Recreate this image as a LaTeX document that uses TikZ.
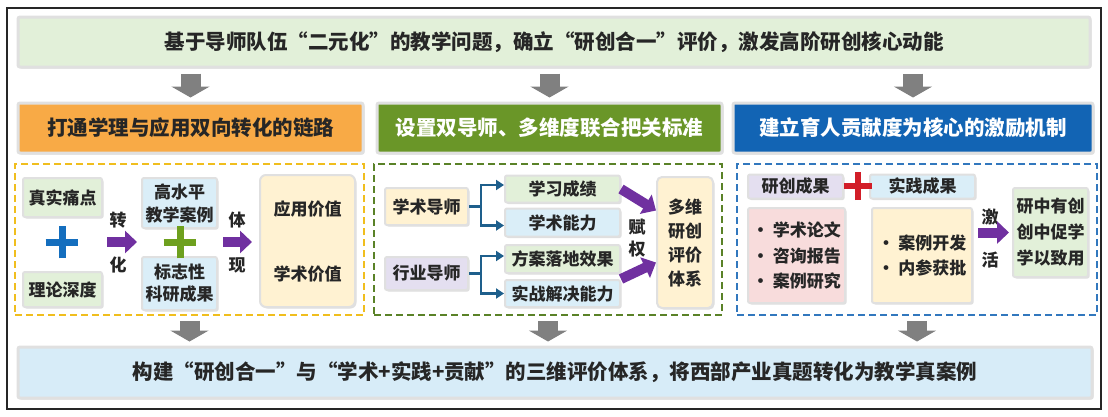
\documentclass[tikz,border=0pt]{standalone}
\usepackage{fontspec}
\setmainfont{Noto Sans CJK SC}
\usetikzlibrary{arrows.meta,shadows,shapes.misc,positioning}
\definecolor{topgreen}{RGB}{226,240,217}
\definecolor{botblue}{RGB}{215,236,248}
\definecolor{hdorange}{RGB}{248,170,70}
\definecolor{hdgreen}{RGB}{106,150,40}
\definecolor{hdblue}{RGB}{18,100,180}
\definecolor{dashorange}{RGB}{240,190,30}
\definecolor{dashgreen}{RGB}{90,130,40}
\definecolor{dashblue}{RGB}{50,120,190}
\definecolor{lgreen}{RGB}{226,240,217}
\definecolor{lblue}{RGB}{218,238,248}
\definecolor{lyellow}{RGB}{255,242,210}
\definecolor{lpurple}{RGB}{228,223,240}
\definecolor{lpink}{RGB}{248,220,220}
\definecolor{plusblue}{RGB}{20,110,190}
\definecolor{plusgreen}{RGB}{110,160,30}
\definecolor{plusred}{RGB}{210,30,40}
\definecolor{arrowgray}{RGB}{128,128,128}
\definecolor{arrowpurple}{RGB}{112,48,160}
\definecolor{forkblue}{RGB}{30,95,140}

\begin{document}
\begin{tikzpicture}[x=1pt, y=-1pt,
  box/.style={draw=black!12, line width=2pt, rounded corners=2pt, text=black!85, align=center, inner sep=0pt,
    font=\fontsize{17}{20}\selectfont\bfseries, drop shadow={opacity=.25, shadow xshift=1.5pt, shadow yshift=-1.5pt}},
  head/.style={box, line width=3pt, font=\fontsize{20.5}{22}\selectfont\bfseries},
  dashbox/.style={draw, dash pattern=on 7pt off 4pt, line width=1.5pt},
  label/.style={text=black!85, font=\fontsize{17}{20}\selectfont\bfseries, inner sep=0pt},
  down/.style={line width=20pt, draw=arrowgray, -{Triangle[width=38pt,length=11pt]}, shorten <=5pt, shorten >=4pt},
  push/.style={line width=10pt, draw=arrowpurple, -{Triangle[width=22pt,length=12pt]}},
  fork/.style={line width=2.5pt, draw=forkblue, -{Triangle[width=10pt,length=8pt]}},
  plus/.style={cross out, draw=#1, line width=7pt, minimum size=16pt, inner sep=0pt, rotate=45}]
\useasboundingbox (0,0) rectangle (1108,416);
\fill[white] (0,0) rectangle (1108,416);
\draw[line width=1.2pt, black!85] (7,8) rectangle (1101,409);

\node[head, fill=topgreen, minimum width=1072pt, minimum height=50pt] (top) at (554,42)
  {基于导师队伍“二元化”的教学问题，确立“研创合一”评价，激发高阶研创核心动能};
\node[head, fill=hdorange, minimum width=345pt, minimum height=50pt] (hdA) at (190.5,128) {打通学理与应用双向转化的链路};
\node[head, fill=hdgreen, text=white, minimum width=345pt, minimum height=50pt] (hdB) at (549.5,128) {设置双导师、多维度联合把关标准};
\node[head, fill=hdblue, text=white, minimum width=360pt, minimum height=50pt] (hdC) at (913,128) {建立育人贡献度为核心的激励机制};

\node[dashbox, draw=dashorange, minimum width=349pt, minimum height=151pt] (dA) at (189.5,239.5) {};
\node[dashbox, draw=dashgreen, minimum width=348pt, minimum height=151pt] (dB) at (548,239.5) {};
\node[dashbox, draw=dashblue, minimum width=360pt, minimum height=151pt] (dC) at (917,239.5) {};

\node[head, fill=botblue, minimum width=1074pt, minimum height=51pt] (bot) at (555,372.5)
  {构建“研创合一”与“学术+实践+贡献”的三维评价体系，将西部产业真题转化为教学真案例};

\foreach \h in {hdA,hdB,hdC}
  \draw[down] (top.south -| \h.north) -- (\h.north);
\foreach \d in {dA,dB,dC}
  \draw[down] (\d.south) -- (bot.north -| \d.south);

% left panel
\node[box, fill=lgreen, minimum width=79pt, minimum height=39pt] (tp) at (62.5,197.5) {真实痛点};
\node[box, fill=lgreen, minimum width=79pt, minimum height=35pt] (ll) at (62.5,289.5) {理论深度};
\node[plus=plusblue] (pa) at (62,242) {};
\node[box, fill=lblue, minimum width=75pt, minimum height=50pt, font=\fontsize{17}{23}\selectfont\bfseries] (gs) at (179.5,203) {高水平\\教学案例};
\node[box, fill=lblue, minimum width=75pt, minimum height=53pt, font=\fontsize{17}{22}\selectfont\bfseries] (bz) at (179.5,283.5) {标志性\\科研成果};
\node[plus=plusgreen] (pb) at (180,242) {};
\node[box, fill=lyellow, rounded corners=6pt, minimum width=95pt, minimum height=132pt] (val) at (307.5,241) {};
\node[label] (yy) at ([yshift=32pt]val.center) {应用价值};
\node[label] (xs2) at ([yshift=-33pt]val.center) {学术价值};
\node[label] (zh) at (118,220) {转};
\node[label] (hu) at (118,265) {化};
\node[label] (ti) at (237,220) {体};
\node[label] (xi) at (237,265) {现};
\draw[push, shorten <=4pt, shorten >=4pt] (tp.east |- pa) -- (gs.west |- pa);
\draw[push, shorten <=5pt, shorten >=7pt] (gs.east |- pb) -- (val.west |- pb);

% middle panel
\node[box, fill=lyellow, minimum width=83pt, minimum height=37pt] (xs) at (426.5,206.5) {学术导师};
\node[box, fill=lpurple, minimum width=83pt, minimum height=33pt] (hy) at (426.5,273.5) {行业导师};
\node[box, fill=lgreen, minimum width=115pt, minimum height=27pt] (xx) at (562.5,189) {学习成绩};
\node[box, fill=lblue, minimum width=115pt, minimum height=28pt] (xn) at (562.5,222.5) {学术能力};
\node[box, fill=lgreen, minimum width=115pt, minimum height=28pt] (fa) at (562.5,259) {方案落地效果};
\node[box, fill=lblue, minimum width=115pt, minimum height=27pt] (sz) at (562.5,293.5) {实战解决能力};
\node[box, fill=lyellow, rounded corners=5pt, minimum width=56pt, minimum height=131pt, font=\fontsize{17}{24}\selectfont\bfseries] (mv) at (685,242.5) {多维\\研创\\评价\\体系};
\node[label] (fu) at (637,227) {赋};
\node[label] (qu) at (637,249) {权};
\draw[fork] (xs.east) -- ++(12,0) coordinate (ja) |- ([yshift=4pt]xx.west);
\draw[fork] (ja) |- ([yshift=-3pt]xn.west);
\draw[fork] (hy.east) -- ++(12,0) coordinate (jb) |- ([yshift=3pt]fa.west);
\draw[fork] (jb) |- (sz.west);
\draw[push] (xx.east) -- ([yshift=32pt]mv.west);
\draw[push] (sz.north east) -- ([yshift=-20pt]mv.west);

% right panel
\node[box, fill=lpurple, minimum width=95pt, minimum height=24pt] (yc) at (795.5,186.5) {研创成果};
\node[box, fill=lblue, minimum width=105pt, minimum height=24pt] (sj) at (922.5,186.5) {实践成果};
\node[plus=plusred, minimum size=14pt, line width=6pt] (pc) at (858,186) {};
\node[box, fill=lpink, minimum width=97pt, minimum height=95pt, font=\fontsize{17}{25.5}\selectfont\bfseries, align=left] (la) at (796.5,255.5) {•\ 学术论文\\•\ 咨询报告\\•\ 案例研究};
\node[box, fill=lyellow, minimum width=100pt, minimum height=95pt, font=\fontsize{17}{25}\selectfont\bfseries, align=left] (rb) at (922,255.5) {•\ 案例开发\\•\ 内参获批};
\node[box, fill=lgreen, minimum width=75pt, minimum height=89pt, font=\fontsize{17}{26}\selectfont\bfseries] (res) at (1050.5,232.5) {研中有创\\创中促学\\学以致用};
\node[label] (ji) at (990,217) {激};
\node[label] (hq) at (990,260) {活};
\draw[push, shorten <=5pt, shorten >=3pt] (rb.east |- res.west) -- (res.west);
\end{tikzpicture}
\end{document}
